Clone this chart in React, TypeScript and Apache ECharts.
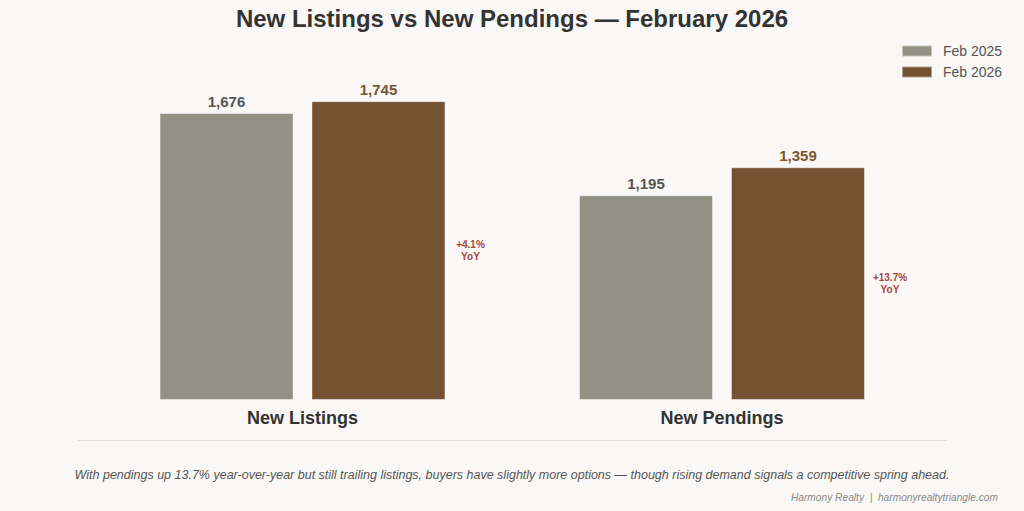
import React, { useEffect, useRef } from "react";
import * as echarts from "echarts";

const categories = ["New Listings", "New Pendings"];
const seriesNames = ["Feb 2025", "Feb 2026"];
const values2025 = [1676, 1195];
const values2026 = [1745, 1359];
const topMarkers = [0, 0];
const titleText = "New Listings vs New Pendings \u2014 February 2026";
const captionText =
  "With pendings up 13.7% year-over-year but still trailing listings, buyers have slightly more options \u2014 though rising demand signals a competitive spring ahead.";
const footerText = "Harmony Realty  |  harmonyrealtytriangle.com";

const FONT = "'Liberation Sans', Arial, Helvetica, sans-serif";
const GRAY = "#919284";
const BROWN = "#745232";

const fmt = (v: number) => v.toLocaleString("en-US");
const yoy = (i: number) => {
  const p = ((values2026[i] - values2025[i]) / values2025[i]) * 100;
  return (p >= 0 ? "+" : "") + p.toFixed(1) + "%";
};

export default function App() {
  const ref = useRef<HTMLDivElement>(null);
  useEffect(() => {
    document.body.style.margin = "0";
    const chart = echarts.init(ref.current!, null, { renderer: "svg" });
    chart.setOption({
      animation: false,
      backgroundColor: "#f9f8f6",
      textStyle: { fontFamily: FONT },
      title: {
        text: titleText,
        left: "center",
        top: 1,
        textStyle: { fontSize: 24, fontWeight: "bold", color: "#333", fontFamily: FONT },
      },
      legend: {
        data: seriesNames,
        orient: "vertical",
        left: 901,
        top: 44,
        padding: 0,
        itemWidth: 30,
        itemHeight: 11,
        itemGap: 7,
        icon: "rect",
        textStyle: { fontSize: 14, color: "#555", fontFamily: FONT, padding: [0, 0, 0, 6] },
      },
      grid: { left: 92.75, right: 92.25, top: 57.5, bottom: 111 },
      xAxis: {
        type: "category",
        data: categories,
        axisLine: { show: false },
        axisTick: { show: false },
        axisLabel: { fontSize: 18, fontWeight: "bold", color: "#333", margin: 9, fontFamily: FONT },
      },
      yAxis: { type: "value", min: 0, max: 2000, show: false, splitLine: { show: false } },
      series: [
        {
          name: seriesNames[0],
          type: "bar",
          data: values2025,
          barWidth: 134,
          barGap: "13.4%",
          itemStyle: { color: GRAY, borderColor: "rgba(255,255,255,0.45)", borderWidth: 1 },
          label: {
            show: true,
            position: "top",
            distance: 4,
            formatter: (p: any) => fmt(p.value),
            fontSize: 15,
            fontWeight: "bold",
            color: "#555",
            fontFamily: FONT,
          },
        },
        {
          name: seriesNames[1],
          type: "bar",
          stack: "cur",
          data: values2026,
          barWidth: 134,
          barGap: "13.4%",
          itemStyle: { color: BROWN, borderColor: "rgba(255,255,255,0.45)", borderWidth: 1 },
          label: {
            show: true,
            position: "right",
            distance: 25,
            align: "center",
            formatter: (p: any) => yoy(p.dataIndex) + "\nYoY",
            fontSize: 10,
            lineHeight: 12,
            fontWeight: "bold",
            color: "#a8423a",
            fontFamily: FONT,
          },
        },
        {
          name: "Feb 2026 total",
          type: "bar",
          stack: "cur",
          data: topMarkers,
          barWidth: 134,
          barGap: "13.4%",
          silent: true,
          itemStyle: { color: "rgba(0,0,0,0)" },
          label: {
            show: true,
            position: "top",
            distance: 4,
            formatter: (p: any) => fmt(values2026[p.dataIndex]),
            fontSize: 15,
            fontWeight: "bold",
            color: "#7a5532",
            fontFamily: FONT,
          },
        },
      ],
      graphic: [
        {
          type: "line",
          shape: { x1: 78, y1: 440.5, x2: 947, y2: 440.5 },
          style: { stroke: "#dddddd", lineWidth: 1 },
        },
        {
          type: "text",
          x: 512,
          y: 475,
          style: {
            text: captionText,
            fontSize: 12.5,
            fontStyle: "italic",
            fill: "#555",
            textAlign: "center",
            textVerticalAlign: "middle",
            fontFamily: FONT,
          },
        },
        {
          type: "text",
          x: 998,
          y: 497,
          style: {
            text: footerText,
            fontSize: 10.2,
            fontStyle: "italic",
            fill: "#888",
            textAlign: "right",
            textVerticalAlign: "middle",
            fontFamily: FONT,
          },
        },
      ],
    });
    return () => chart.dispose();
  }, []);
  return <div ref={ref} style={{ width: 1024, height: 511 }} />;
}
